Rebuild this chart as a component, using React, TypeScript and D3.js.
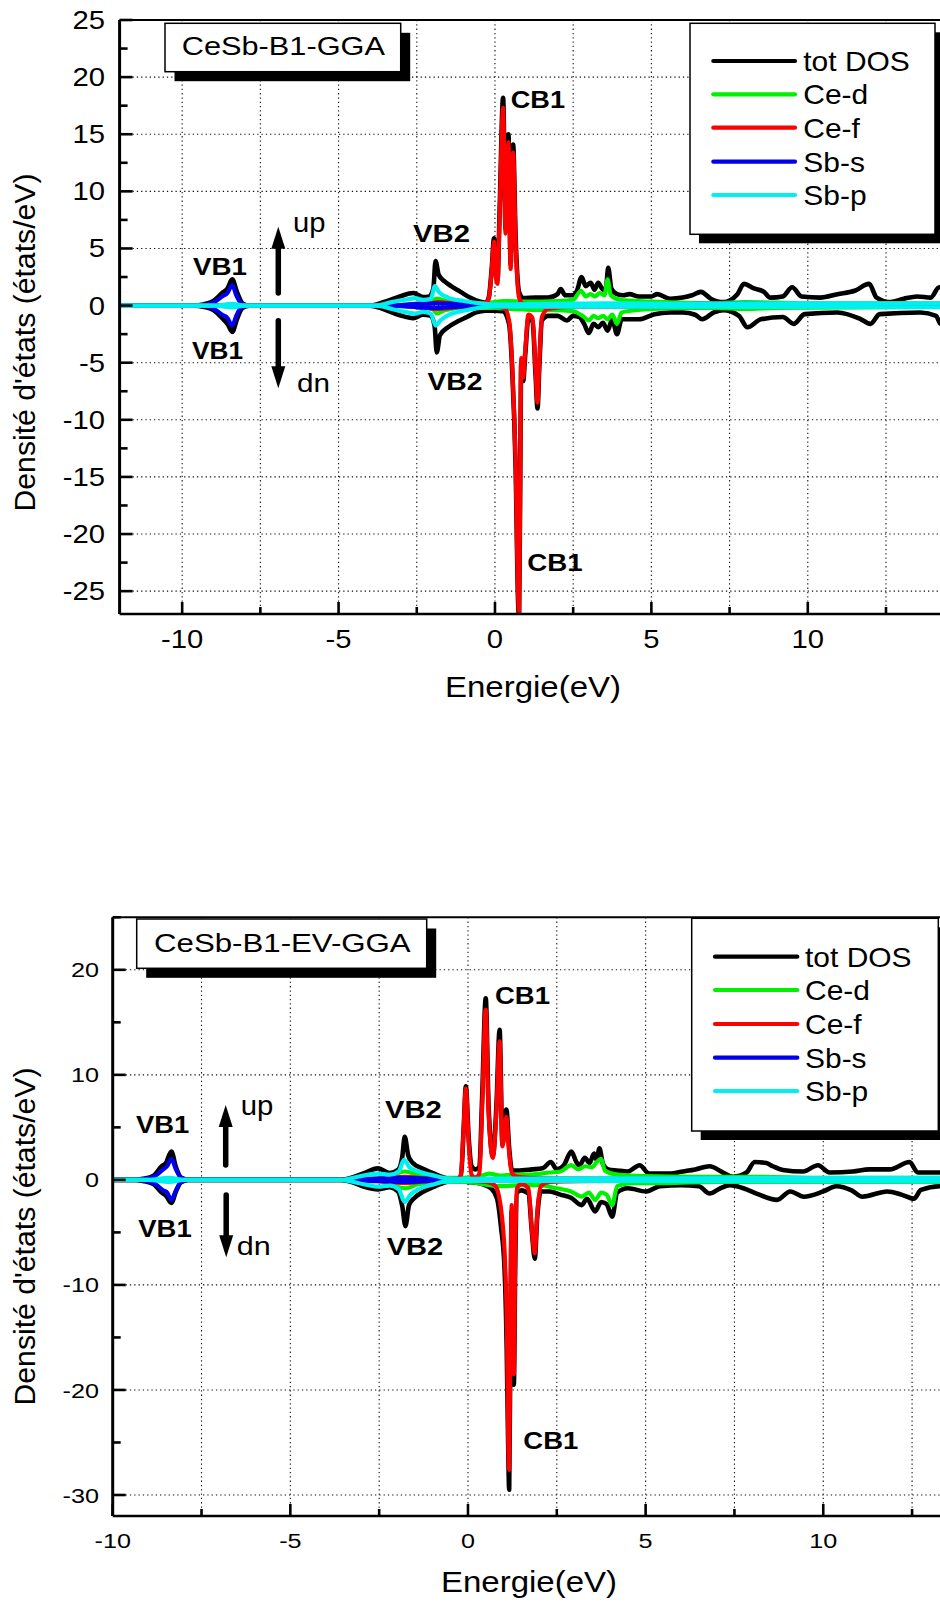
import React from 'react';
import * as d3 from 'd3';

type P = [number, number];

// ---------- DATA : panel 1 (CeSb-B1-GGA) ----------
const GGA_TOT_UP: P[] = [[-12,0],[-9.6,0],[-9.33,0.1],[-9.0,0.4],[-8.72,1.1],[-8.55,1.5],[-8.4,2.3],[-8.25,1.2],[-8.07,0.2],[-7.85,0],
[-4.0,0],[-3.57,0.3],[-3.04,0.8],[-2.61,1.1],[-2.3,0.75],[-2.1,0.8],[-1.97,1.5],[-1.9,3.9],[-1.8,2.7],[-1.6,2.1],[-1.4,1.7],[-1.1,1.2],[-0.8,0.7],[-0.5,0.35],[-0.3,0.25],
[-0.2,0.7],[-0.1,3.4],[-0.03,5.9],[0.04,2.5],[0.08,2.2],[0.15,8.5],[0.26,18.2],[0.34,6.7],[0.43,15.0],[0.5,3.6],[0.58,14.1],[0.66,6],[0.77,1.2],[0.9,0.65],
[1.3,0.7],[1.7,0.7],[2.0,1.0],[2.1,1.45],[2.25,0.9],[2.5,0.9],[2.62,1.3],[2.77,2.5],[2.9,1.7],[3.06,2.0],[3.18,1.4],[3.3,2.0],[3.45,1.4],[3.55,1.6],[3.62,3.3],[3.72,1.5],[3.9,1.0],[4.1,0.9],[4.3,1.0],[4.6,0.8],[5.0,0.8],[5.19,1.0],[5.6,0.6],[6.0,0.7],[6.3,0.9],[6.58,1.2],[6.9,0.6],[7.3,0.3],[7.75,1.0],[7.96,1.9],[8.28,1.5],[8.6,1.2],[8.8,0.7],[9.2,0.8],[9.5,1.6],[9.8,0.8],[10.4,0.7],[10.95,1.0],[11.5,1.3],[11.96,1.9],[12.2,0.7],[12.65,0.3],[13.07,0.6],[13.5,0.8],[13.93,0.7],[14.2,1.6],[14.6,1.2],[15,1.0]];
const GGA_TOT_DN: P[] = [[-12,0],[-9.6,0],[-9.33,-0.1],[-9.0,-0.4],[-8.72,-1.1],[-8.55,-1.6],[-8.4,-2.3],[-8.25,-1.2],[-8.07,-0.2],[-7.85,0],
[-4.0,0],[-3.57,-0.3],[-3.04,-0.85],[-2.61,-1.1],[-2.3,-0.8],[-2.05,-0.9],[-1.93,-1.8],[-1.86,-4.1],[-1.76,-2.6],[-1.5,-1.9],[-1.2,-1.4],[-0.9,-1.0],[-0.6,-0.6],[-0.3,-0.45],[0,-0.45],[0.25,-0.5],
[0.45,-1.6],[0.55,-5.6],[0.66,-14.2],[0.74,-26],[0.77,-27.2],[0.8,-18],[0.84,-5.0],[0.9,-6.6],[0.97,-4.2],[1.07,-1.1],[1.2,-1.4],[1.3,-6.2],[1.36,-9.0],[1.42,-5.2],[1.5,-1.3],[1.7,-0.9],[2.0,-0.9],[2.3,-1.3],[2.5,-0.9],[2.7,-1.0],[2.85,-1.6],[3.0,-2.4],[3.15,-1.6],[3.3,-1.9],[3.45,-1.5],[3.6,-2.2],[3.75,-1.2],[3.9,-2.5],[4.05,-1.2],[4.3,-1.2],[4.6,-1.2],[5.1,-0.75],[5.6,-0.6],[6.0,-0.6],[6.4,-0.8],[6.62,-1.2],[7.0,-0.6],[7.3,-0.4],[7.8,-0.9],[8.07,-1.9],[8.5,-1.2],[9.2,-1.0],[9.55,-1.6],[9.9,-0.75],[10.95,-0.6],[11.7,-1.2],[12.0,-1.6],[12.3,-0.75],[13.6,-0.6],[14.1,-0.9],[14.25,-1.6],[14.6,-1.2],[15,-1.0]];
const GGA_CED_UP: P[] = [[-12,0],[-3.5,0],[-2.6,0.15],[-2.1,0.25],[-1.85,0.6],[-1.5,0.35],[-1.0,0.2],[-0.3,0.2],[0.3,0.4],[1.0,0.35],[2.0,0.4],[2.5,0.5],[2.75,1.3],[2.9,0.8],[3.05,1.0],[3.2,0.8],[3.35,1.1],[3.5,0.9],[3.6,2.3],[3.7,0.9],[4.0,0.5],[5.0,0.35],[7.0,0.2],[8.0,0.3],[10,0.2],[15,0.2]];
const GGA_CED_DN: P[] = [[-12,0],[-3.5,0],[-2.5,-0.1],[-2.0,-0.3],[-1.85,-0.7],[-1.6,-0.4],[-1,-0.2],[0,-0.2],[0.5,-0.3],[1.0,-0.35],[2.0,-0.4],[2.5,-0.5],[2.8,-0.9],[3.0,-1.3],[3.15,-0.9],[3.3,-1.1],[3.45,-0.9],[3.6,-1.2],[3.75,-0.8],[3.9,-1.6],[4.05,-0.6],[4.5,-0.4],[5,-0.3],[6,-0.2],[7,-0.2],[8,-0.3],[9,-0.2],[15,-0.1]];
const GGA_CEF_UP: P[] = [[-12,0],[-3,0],[-2.2,0.05],[-1.85,0.3],[-1.2,0.15],[-0.5,0.1],[-0.3,0.2],[-0.2,0.6],[-0.1,3.2],[-0.03,5.6],[0.04,2.2],[0.08,1.9],[0.15,8],[0.26,17.3],[0.34,6.3],[0.43,14.3],[0.5,3.2],[0.58,13.4],[0.66,5.5],[0.77,0.7],[0.9,0.15],[1.5,0.1],[3,0.1],[15,0.05]];
const GGA_CEF_DN: P[] = [[-12,0],[-3,0],[-1.85,-0.3],[-1,-0.1],[0,-0.1],[0.3,-0.2],[0.45,-1.3],[0.55,-5.2],[0.66,-13.8],[0.74,-25.5],[0.77,-26.8],[0.8,-17.8],[0.84,-4.6],[0.9,-6.3],[0.97,-3.8],[1.07,-0.8],[1.2,-1.1],[1.3,-5.8],[1.36,-8.5],[1.42,-4.8],[1.5,-1.0],[1.7,-0.3],[2.5,-0.1],[15,-0.05]];
const GGA_SBS_UP: P[] = [[-12,0],[-9.5,0],[-9.2,0.1],[-8.95,0.35],[-8.72,0.8],[-8.55,1.1],[-8.4,1.8],[-8.27,0.9],[-8.12,0.2],[-7.9,0],[-4,0],[-3,0.05],[-2.5,0.15],[-1.9,0.2],[-1,0.1],[0,0.05],[3,0.1],[5,0.1],[8,0.2],[10,0.1],[15,0.1]];
const GGA_SBS_DN: P[] = [[-12,0],[-9.5,0],[-9.2,-0.1],[-8.95,-0.35],[-8.72,-0.8],[-8.55,-1.1],[-8.4,-1.75],[-8.27,-0.9],[-8.12,-0.2],[-7.9,0],[-4,0],[-3,-0.05],[-2.5,-0.15],[-1.9,-0.2],[-1,-0.1],[0,-0.05],[15,-0.05]];
const GGA_SBP_UP: P[] = [[-12,0],[-9,0],[-8.4,0.15],[-8,0],[-3.8,0],[-3.3,0.3],[-2.8,0.55],[-2.55,0.65],[-2.3,0.5],[-2.05,0.6],[-1.92,1.7],[-1.8,1.2],[-1.5,0.7],[-1.0,0.4],[-0.5,0.2],[0,0.1],[2,0.15],[3.5,0.2],[6,0.15],[8,0.2],[10,0.2],[15,0.2]];
const GGA_SBP_DN: P[] = [[-12,0],[-9,0],[-8.4,-0.15],[-8,0],[-3.8,0],[-3.3,-0.3],[-2.8,-0.6],[-2.55,-0.7],[-2.3,-0.55],[-2.05,-0.7],[-1.9,-1.75],[-1.75,-1.3],[-1.5,-0.85],[-1.0,-0.45],[-0.5,-0.2],[0,-0.1],[15,-0.15]];

// ---------- DATA : panel 2 (CeSb-B1-EV-GGA) ----------
const EV_TOT_UP: P[] = [[-10,0],[-9.4,0],[-9.15,0.1],[-8.85,0.4],[-8.62,1.3],[-8.5,1.6],[-8.35,2.7],[-8.22,1.2],[-8.07,0.2],[-7.85,0],
[-3.6,0],[-3.33,0.15],[-2.96,0.6],[-2.53,1.1],[-2.2,0.65],[-1.97,0.95],[-1.85,2.2],[-1.78,4.1],[-1.68,2.3],[-1.55,1.6],[-1.3,1.1],[-0.99,0.65],[-0.61,0.16],[-0.4,0.05],
[-0.2,0.3],[-0.12,5],[-0.06,8.9],[0.02,4],[0.1,1.3],[0.2,1.0],[0.32,1.2],[0.4,8],[0.5,17.3],[0.58,7],[0.7,2.3],[0.8,7],[0.89,14.3],[0.97,3.4],[1.08,6.7],[1.16,3],[1.24,0.9],[1.4,0.9],[1.8,1.0],[2.1,1.1],[2.33,1.7],[2.5,1.0],[2.7,1.4],[2.91,2.7],[3.05,1.7],[3.14,1.4],[3.29,2.1],[3.42,1.6],[3.55,2.5],[3.62,1.9],[3.7,3.0],[3.8,1.5],[3.95,1.0],[4.2,0.9],[4.5,0.8],[4.83,1.4],[5.1,0.6],[5.7,0.6],[6.05,0.8],[6.4,1.0],[6.8,1.3],[7.18,0.7],[7.46,0.3],[7.84,0.7],[8.07,1.7],[8.4,1.6],[8.58,1.3],[8.86,0.95],[9.43,0.8],[9.85,1.4],[10.18,0.7],[10.84,0.8],[11.3,1.0],[11.87,1.0],[12.43,1.7],[12.66,0.7],[13.28,0.7],[15,0.8]];
const EV_TOT_DN: P[] = [[-10,0],[-9.4,0],[-9.15,-0.1],[-8.85,-0.4],[-8.62,-1.2],[-8.5,-1.5],[-8.35,-2.2],[-8.22,-1.1],[-8.07,-0.2],[-7.85,0],
[-3.6,0],[-3.33,-0.15],[-2.96,-0.6],[-2.53,-0.9],[-2.2,-0.7],[-1.97,-1.1],[-1.85,-2.5],[-1.76,-4.4],[-1.66,-2.4],[-1.5,-1.7],[-1.3,-1.2],[-0.99,-0.7],[-0.61,-0.2],[-0.4,-0.1],[0,-0.2],[0.4,-0.4],
[0.65,-0.8],[0.82,-1.8],[0.93,-4.5],[1.03,-8.5],[1.09,-16],[1.13,-25],[1.16,-29.5],[1.2,-12],[1.23,-3],[1.26,-10],[1.29,-19.5],[1.33,-8],[1.38,-1.2],[1.5,-1.0],[1.7,-1.3],[1.8,-5],[1.88,-7.5],[1.95,-3.5],[2.05,-1.1],[2.3,-1.1],[2.6,-1.4],[2.9,-1.7],[3.2,-2.4],[3.35,-1.8],[3.58,-3.0],[3.75,-2.1],[3.9,-2.3],[4.06,-3.5],[4.2,-1.2],[4.5,-0.8],[5.02,-1.1],[5.4,-0.6],[6.0,-0.5],[6.5,-0.6],[6.8,-1.3],[7.1,-0.8],[7.37,-0.5],[7.75,-0.8],[8.12,-1.3],[8.7,-1.9],[9.07,-1.1],[9.45,-1.6],[10.0,-1.1],[10.37,-0.6],[10.8,-1.0],[11.1,-1.6],[11.8,-1.1],[12.2,-1.4],[12.55,-1.8],[12.75,-0.95],[13.28,-0.6],[15,-0.6]];
const EV_CED_UP: P[] = [[-10,0],[-3.5,0],[-2.8,0.1],[-2.3,0.2],[-1.78,0.8],[-1.4,0.5],[-0.8,0.2],[-0.2,0.2],[0.3,0.3],[0.6,0.6],[0.9,0.4],[1.3,0.5],[1.8,0.5],[2.3,0.7],[2.6,0.8],[2.91,1.4],[3.1,1.0],[3.3,1.3],[3.5,1.2],[3.6,1.6],[3.75,2.0],[3.85,0.9],[4.2,0.5],[5,0.35],[6.5,0.3],[8,0.3],[10,0.2],[15,0.2]];
const EV_CED_DN: P[] = [[-10,0],[-3.5,0],[-2.5,-0.1],[-1.75,-0.8],[-1.4,-0.4],[-0.8,-0.2],[0,-0.2],[0.6,-0.5],[1.0,-0.6],[1.5,-0.5],[2.0,-0.5],[2.5,-0.8],[2.9,-1.1],[3.2,-1.6],[3.4,-1.2],[3.58,-1.9],[3.75,-1.2],[3.9,-1.4],[4.06,-2.4],[4.2,-0.6],[4.6,-0.3],[5.5,-0.3],[7,-0.2],[9,-0.2],[15,-0.2]];
const EV_CEF_UP: P[] = [[-10,0],[-3,0],[-1.78,0.3],[-1,0.1],[-0.3,0.1],[-0.2,0.5],[-0.12,5],[-0.06,8.7],[0.02,3.5],[0.1,0.5],[0.2,0.2],[0.32,0.6],[0.4,7],[0.5,16.2],[0.58,6.5],[0.7,2.1],[0.8,6.5],[0.89,13.2],[0.97,3.2],[1.08,6.0],[1.16,2.5],[1.24,0.6],[1.4,0.3],[2,0.15],[4,0.1],[15,0.05]];
const EV_CEF_DN: P[] = [[-10,0],[-3,0],[-1.75,-0.3],[-1,-0.1],[0,-0.1],[0.5,-0.2],[0.75,-0.5],[0.87,-1.5],[0.96,-3.6],[1.04,-7.6],[1.1,-15],[1.13,-24],[1.16,-27.6],[1.2,-11],[1.23,-2.4],[1.26,-9],[1.29,-18.5],[1.33,-7],[1.38,-0.8],[1.5,-0.4],[1.7,-0.8],[1.8,-4.8],[1.88,-7.0],[1.95,-3.2],[2.05,-0.6],[2.3,-0.2],[4,-0.1],[15,-0.05]];
const EV_SBS_UP: P[] = [[-10,0],[-9.4,0],[-9.1,0.1],[-8.8,0.4],[-8.58,1.0],[-8.47,1.3],[-8.35,2.0],[-8.22,1.0],[-8.1,0.3],[-7.9,0],[-3.5,0],[-2.8,0.1],[-1.8,0.2],[-1,0.1],[0,0.05],[8,0.15],[15,0.1]];
const EV_SBS_DN: P[] = [[-10,0],[-9.4,0],[-9.1,-0.1],[-8.8,-0.4],[-8.58,-1.0],[-8.47,-1.2],[-8.35,-1.9],[-8.22,-1.0],[-8.1,-0.3],[-7.9,0],[-3.5,0],[-2.8,-0.1],[-1.8,-0.2],[-1,-0.1],[0,-0.05],[15,-0.05]];
const EV_SBP_UP: P[] = [[-10,0],[-9,0],[-8.4,0.2],[-8,0],[-3.6,0],[-3.1,0.3],[-2.8,0.5],[-2.53,0.6],[-2.2,0.5],[-1.95,0.8],[-1.8,1.9],[-1.65,1.2],[-1.4,0.8],[-1.0,0.45],[-0.6,0.15],[0,0.1],[3,0.15],[15,0.2]];
const EV_SBP_DN: P[] = [[-10,0],[-9,0],[-8.4,-0.2],[-8,0],[-3.6,0],[-3.1,-0.3],[-2.8,-0.5],[-2.53,-0.65],[-2.2,-0.55],[-1.95,-0.9],[-1.78,-2.1],[-1.62,-1.4],[-1.4,-0.9],[-1.0,-0.45],[-0.6,-0.15],[0,-0.1],[15,-0.15]];

const SERIES_NAMES = ['tot DOS', 'Ce-d', 'Ce-f', 'Sb-s', 'Sb-p'];
const SERIES_COLORS = ['#000000', '#00f000', '#ff0000', '#0000ee', '#00f0f0'];

const GGA_SERIES: [P[], P[]][] = [[GGA_TOT_UP, GGA_TOT_DN], [GGA_CED_UP, GGA_CED_DN], [GGA_CEF_UP, GGA_CEF_DN], [GGA_SBS_UP, GGA_SBS_DN], [GGA_SBP_UP, GGA_SBP_DN]];
const EV_SERIES: [P[], P[]][] = [[EV_TOT_UP, EV_TOT_DN], [EV_CED_UP, EV_CED_DN], [EV_CEF_UP, EV_CEF_DN], [EV_SBS_UP, EV_SBS_DN], [EV_SBP_UP, EV_SBP_DN]];

const GGA_XTICKS = [-10, -5, 0, 5, 10];
const GGA_YTICKS = [-25, -20, -15, -10, -5, 0, 5, 10, 15, 20, 25];
const EV_XTICKS = [-10, -5, 0, 5, 10];
const EV_YTICKS = [-30, -20, -10, 0, 10, 20];

const FONT = "'Liberation Sans', Arial, Helvetica, sans-serif";

type Lbl = { t: string; x: number; y: number; w: number; size: number; bold?: boolean };

interface Cfg {
  id: string;
  series: [P[], P[]][];
  xDomain: [number, number];
  xRange: [number, number];
  yDomain: [number, number];
  yRange: [number, number];
  xTicks: number[];
  yTicks: number[];
  xMinorStep: number;
  yMinorStep: number;
  yGridStep: number;
  tickFont: number;
  tickSx: number;
  yLabelRight: number;
  xLabelBase: number;
  title: string;
  titleBox: [number, number, number, number];
  titleText: [number, number, number];
  legendBox: [number, number, number, number];
  legendLine: [number, number];
  legendY: number[];
  legendTextX: number;
  yTitleY: number;
  xTitle: [number, number];
  labels: Lbl[];
  upArrow: [number, number, number];
  dnArrow: [number, number, number];
}

const CFG1: Cfg = {
  id: 'p1', series: GGA_SERIES,
  xDomain: [-12, 15], xRange: [119.6, 964.2],
  yDomain: [-27, 25], yRange: [614, 20],
  xTicks: GGA_XTICKS, yTicks: GGA_YTICKS, xMinorStep: 2.5, yMinorStep: 2.5, yGridStep: 5,
  tickFont: 25, tickSx: 1.17, yLabelRight: 105, xLabelBase: 648,
  title: 'CeSb-B1-GGA', titleBox: [165, 23.3, 235.7, 48.4], titleText: [181.7, 55, 203.3],
  legendBox: [690, 23.3, 245, 211], legendLine: [713.3, 795], legendY: [61, 94.3, 127.7, 161.7, 195], legendTextX: 803.3,
  yTitleY: 342.5, xTitle: [533, 697],
  labels: [
    { t: 'VB1', x: 193, y: 275, w: 54, size: 23, bold: true },
    { t: 'VB1', x: 192, y: 359.3, w: 51, size: 23, bold: true },
    { t: 'VB2', x: 413, y: 241.7, w: 57, size: 23, bold: true },
    { t: 'VB2', x: 427.5, y: 390, w: 55, size: 23, bold: true },
    { t: 'CB1', x: 510.7, y: 108.3, w: 54.3, size: 23, bold: true },
    { t: 'CB1', x: 527.3, y: 570.7, w: 55.4, size: 23, bold: true },
    { t: 'up', x: 293, y: 231.7, w: 32.5, size: 27 },
    { t: 'dn', x: 297, y: 391.7, w: 33, size: 26 },
  ],
  upArrow: [278.3, 293, 226.7], dnArrow: [278.3, 320.7, 388.3],
};

const CFG2: Cfg = {
  id: 'p2', series: EV_SERIES,
  xDomain: [-10, 15], xRange: [112.7, 1000.9],
  yDomain: [-32, 25], yRange: [1516, 917.3],
  xTicks: EV_XTICKS, yTicks: EV_YTICKS, xMinorStep: 2.5, yMinorStep: 5, yGridStep: 10,
  tickFont: 21, tickSx: 1.2, yLabelRight: 99, xLabelBase: 1548,
  title: 'CeSb-B1-EV-GGA', titleBox: [136.7, 919, 290, 49.3], titleText: [154, 951.7, 256.7],
  legendBox: [691.7, 918.3, 246.6, 212.7], legendLine: [715, 797.3], legendY: [956.7, 990, 1024, 1057.7, 1091], legendTextX: 805,
  yTitleY: 1236.5, xTitle: [529, 1592],
  labels: [
    { t: 'VB1', x: 136, y: 1132.7, w: 53.3, size: 24, bold: true },
    { t: 'VB1', x: 138.3, y: 1237.3, w: 53.4, size: 24, bold: true },
    { t: 'VB2', x: 385, y: 1118.3, w: 56.7, size: 24, bold: true },
    { t: 'VB2', x: 386.7, y: 1255, w: 56.6, size: 24, bold: true },
    { t: 'CB1', x: 495, y: 1004, w: 55, size: 24, bold: true },
    { t: 'CB1', x: 523.3, y: 1449.3, w: 55, size: 24, bold: true },
    { t: 'up', x: 240.7, y: 1115, w: 32.6, size: 27 },
    { t: 'dn', x: 236.7, y: 1255, w: 34, size: 26 },
  ],
  upArrow: [225.7, 1165, 1105], dnArrow: [226.2, 1195, 1257.3],
};

function range(a: number, b: number, s: number): number[] {
  const out: number[] = [];
  for (let v = a; v <= b + 1e-9; v += s) out.push(Math.round(v * 1000) / 1000);
  return out;
}

function Arrow({ x, y0, y1 }: { x: number; y0: number; y1: number }) {
  const dir = y1 < y0 ? -1 : 1; // -1 up
  const headH = 22, headW = 14;
  const base = y1 - dir * headH;
  return (
    <g>
      <line x1={x} y1={y0} x2={x} y2={base + dir * 2} stroke="#000" strokeWidth={5.5} strokeLinecap="round" />
      <path d={`M${x - headW / 2},${base} L${x + headW / 2},${base} L${x},${y1} Z`} fill="#000" />
    </g>
  );
}

function Panel({ c }: { c: Cfg }) {
  const x = d3.scaleLinear().domain(c.xDomain).range(c.xRange);
  const y = d3.scaleLinear().domain(c.yDomain).range(c.yRange);
  const line = d3.line<P>().x(d => x(d[0])).y(d => y(d[1])).curve(d3.curveMonotoneX);
  const L = c.xRange[0], R = 945, T = c.yRange[1], B = c.yRange[0];

  const xGrid = range(Math.ceil(c.xDomain[0] / 2.5) * 2.5, c.xDomain[1], 2.5).filter(v => x(v) > L + 2 && x(v) < 940);
  const yGrid = range(Math.ceil(c.yDomain[0] / c.yGridStep) * c.yGridStep, c.yDomain[1], c.yGridStep).filter(v => y(v) < B - 2 && y(v) > T + 2);
  const xMinor = range(Math.ceil(c.xDomain[0] / c.xMinorStep) * c.xMinorStep, c.xDomain[1], c.xMinorStep).filter(v => !c.xTicks.includes(v) && x(v) < 940 && x(v) > L + 1);
  const yMinor = range(Math.ceil(c.yDomain[0] / c.yMinorStep) * c.yMinorStep, c.yDomain[1], c.yMinorStep).filter(v => !c.yTicks.includes(v) && y(v) <= B && y(v) >= T);

  const [bx, by, bw, bh] = c.titleBox;
  const [lx, ly, lw, lh] = c.legendBox;

  return (
    <g fontFamily={FONT}>
      <defs>
        <clipPath id={`clip-${c.id}`}>
          <rect x={L} y={T} width={R - L} height={B - T} />
        </clipPath>
      </defs>
      {/* grid */}
      <g stroke="#111" strokeWidth={1.1} strokeDasharray="1.3 3">
        {xGrid.map(v => <line key={'gx' + v} x1={x(v)} x2={x(v)} y1={T} y2={B} />)}
        {yGrid.map(v => <line key={'gy' + v} x1={L} x2={R} y1={y(v)} y2={y(v)} />)}
      </g>
      {/* curves */}
      <g clipPath={`url(#clip-${c.id})`} fill="none" strokeLinejoin="round" strokeLinecap="round">
        {c.series.map((s, i) => (
          <g key={i} stroke={SERIES_COLORS[i]} strokeWidth={i === 0 ? 4.6 : 4.2}>
            <path d={line(s[0]) || ''} />
            <path d={line(s[1]) || ''} />
          </g>
        ))}
      </g>
      {/* frame */}
      <g stroke="#000" strokeWidth={2.6} fill="none">
        <line x1={L} x2={R} y1={T} y2={T} strokeWidth={2} />
        <line x1={L} x2={R} y1={B} y2={B} />
        <line x1={L} x2={L} y1={T} y2={B} strokeWidth={3} />
        {c.yTicks.map(v => <line key={'ty' + v} x1={L} x2={L + 13} y1={y(v)} y2={y(v)} />)}
        {yMinor.map(v => <line key={'tym' + v} x1={L} x2={L + 8} y1={y(v)} y2={y(v)} />)}
        {c.xTicks.map(v => <line key={'tx' + v} x1={x(v)} x2={x(v)} y1={B} y2={B - 12} />)}
        {xMinor.map(v => <line key={'txm' + v} x1={x(v)} x2={x(v)} y1={B} y2={B - 7} />)}
      </g>
      {/* tick labels */}
      <g fontSize={c.tickFont} fill="#000">
        {c.yTicks.map(v => (
          <text key={'ly' + v} textAnchor="end" transform={`translate(${c.yLabelRight},${y(v) + c.tickFont * 0.36}) scale(${c.tickSx},1)`}>{String(v)}</text>
        ))}
        {c.xTicks.map(v => (
          <text key={'lx' + v} textAnchor="middle" transform={`translate(${x(v)},${c.xLabelBase}) scale(${c.tickSx},1)`}>{String(v)}</text>
        ))}
      </g>
      {/* axis titles */}
      <text fontSize={30} textAnchor="middle" transform={`translate(35,${c.yTitleY}) rotate(-90)`} textLength={338} lengthAdjust="spacingAndGlyphs">Densité d'états (états/eV)</text>
      <text fontSize={30} textAnchor="middle" transform={`translate(${c.xTitle[0]},${c.xTitle[1]}) scale(1.1,1)`}>Energie(eV)</text>
      {/* title box */}
      <rect x={bx + 9.5} y={by + 9.5} width={bw} height={bh} fill="#000" />
      <rect x={bx} y={by} width={bw} height={bh} fill="#fff" stroke="#000" strokeWidth={1.5} />
      <text x={c.titleText[0]} y={c.titleText[1]} fontSize={25.5} textLength={c.titleText[2]} lengthAdjust="spacingAndGlyphs">{c.title}</text>
      {/* legend */}
      <rect x={lx + 9} y={ly + 9} width={lw} height={lh} fill="#000" />
      <rect x={lx} y={ly} width={lw} height={lh} fill="#fff" stroke="#000" strokeWidth={1.5} />
      {SERIES_NAMES.map((n, i) => (
        <g key={n}>
          <line x1={c.legendLine[0]} x2={c.legendLine[1]} y1={c.legendY[i]} y2={c.legendY[i]} stroke={SERIES_COLORS[i]} strokeWidth={4.2} strokeLinecap="round" />
          <text fontSize={27.5} transform={`translate(${c.legendTextX},${c.legendY[i] + 9.8}) scale(1.09,1)`}>{n}</text>
        </g>
      ))}
      {/* annotations */}
      {c.labels.map((l, i) => (
        <text key={'a' + i} x={l.x} y={l.y} fontSize={l.size} fontWeight={l.bold ? 'bold' : 'normal'} textLength={l.w} lengthAdjust="spacingAndGlyphs">{l.t}</text>
      ))}
      <Arrow x={c.upArrow[0]} y0={c.upArrow[1]} y1={c.upArrow[2]} />
      <Arrow x={c.dnArrow[0]} y0={c.dnArrow[1]} y1={c.dnArrow[2]} />
    </g>
  );
}

export default function App() {
  return (
    <svg width={940} height={1603} viewBox="0 0 940 1603" style={{ position: 'absolute', left: 0, top: 0, background: '#fff' }}>
      <rect x={0} y={0} width={940} height={1603} fill="#fff" />
      <Panel c={CFG1} />
      <Panel c={CFG2} />
    </svg>
  );
}
